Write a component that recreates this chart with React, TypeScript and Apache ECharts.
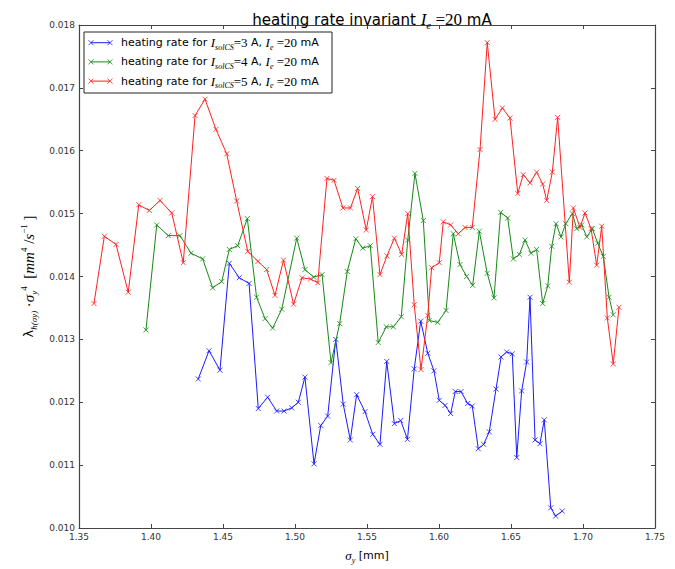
import React, { useEffect, useRef } from "react";
import * as echarts from "echarts";

const xTicks = [1.35, 1.4, 1.45, 1.5, 1.55, 1.6, 1.65, 1.7, 1.75];
const yTicks = [0.01, 0.011, 0.012, 0.013, 0.014, 0.015, 0.016, 0.017, 0.018];

const sigmaBlue = [1.4328,1.4403,1.4479,1.4544,1.4613,1.4681,1.4745,1.4810,1.4873,1.4924,1.4977,1.5023,1.5069,1.5132,1.5179,1.5227,1.5283,1.5335,1.5384,1.5428,1.5486,1.5540,1.5590,1.5637,1.5690,1.5734,1.5781,1.5828,1.5873,1.5922,1.5965,1.6002,1.6042,1.6081,1.6113,1.6153,1.6199,1.6231,1.6273,1.6310,1.6349,1.6396,1.6431,1.6470,1.6509,1.6540,1.6574,1.6609,1.6632,1.6667,1.6701,1.6731,1.6776,1.6810,1.6856];
const rateBlue = [0.01237,0.01282,0.01251,0.01421,0.01398,0.01389,0.01190,0.01208,0.01186,0.01186,0.01191,0.01200,0.01240,0.01102,0.01163,0.01178,0.01300,0.01197,0.01140,0.01212,0.01185,0.01149,0.01133,0.01265,0.01166,0.01171,0.01141,0.01253,0.01329,0.01278,0.01250,0.01203,0.01195,0.01182,0.01217,0.01217,0.01198,0.01194,0.01126,0.01133,0.01153,0.01221,0.01272,0.01280,0.01277,0.01112,0.01218,0.01264,0.01367,0.01140,0.01134,0.01172,0.01032,0.01019,0.01027];

const sigmaGreen = [1.3965,1.4040,1.4120,1.4201,1.4278,1.4359,1.4428,1.4491,1.4544,1.4602,1.4669,1.4733,1.4792,1.4845,1.4908,1.5012,1.5069,1.5130,1.5188,1.5250,1.5310,1.5363,1.5422,1.5471,1.5523,1.5578,1.5634,1.5683,1.5738,1.5783,1.5833,1.5891,1.5933,1.5991,1.6049,1.6099,1.6146,1.6192,1.6234,1.6280,1.6335,1.6382,1.6428,1.6477,1.6516,1.6558,1.6597,1.6639,1.6678,1.6720,1.6755,1.6783,1.6813,1.6847,1.6880,1.6926,1.6956,1.6991,1.7026,1.7065,1.7102,1.7141,1.7181,1.7210];
const rateGreen = [0.01315,0.01482,0.01465,0.01465,0.01437,0.01428,0.01382,0.01392,0.01443,0.01449,0.01492,0.01367,0.01333,0.01318,0.01348,0.01461,0.01411,0.01399,0.01403,0.01263,0.01325,0.01408,0.01460,0.01445,0.01449,0.01295,0.01320,0.01320,0.01336,0.01458,0.01564,0.01489,0.01330,0.01327,0.01346,0.01468,0.01419,0.01400,0.01386,0.01472,0.01405,0.01366,0.01502,0.01493,0.01428,0.01435,0.01458,0.01437,0.01443,0.01357,0.01385,0.01448,0.01484,0.01463,0.01484,0.01500,0.01476,0.01482,0.01463,0.01476,0.01453,0.01432,0.01367,0.01339];

const sigmaRed = [1.3604,1.3676,1.3757,1.3842,1.3915,1.3988,1.4063,1.4144,1.4224,1.4306,1.4375,1.4451,1.4526,1.4595,1.4672,1.4743,1.4803,1.4861,1.4920,1.4990,1.5049,1.5108,1.5158,1.5222,1.5271,1.5333,1.5385,1.5435,1.5495,1.5538,1.5590,1.5639,1.5690,1.5741,1.5783,1.5828,1.5875,1.5922,1.5949,1.6002,1.6030,1.6081,1.6134,1.6181,1.6231,1.6285,1.6335,1.6389,1.6440,1.6493,1.6547,1.6585,1.6632,1.6678,1.6720,1.6748,1.6787,1.6824,1.6905,1.6933,1.6979,1.7014,1.7056,1.7095,1.7130,1.7169,1.7210,1.7250];
const rateRed = [0.01357,0.01464,0.01451,0.01375,0.01514,0.01505,0.01521,0.01501,0.01422,0.01656,0.01682,0.01634,0.01595,0.01520,0.01440,0.01424,0.01411,0.01370,0.01426,0.01356,0.01398,0.01396,0.01390,0.01556,0.01553,0.01509,0.01509,0.01540,0.01474,0.01527,0.01403,0.01433,0.01461,0.01435,0.01500,0.01355,0.01252,0.01338,0.01414,0.01422,0.01487,0.01482,0.01468,0.01478,0.01478,0.01602,0.01772,0.01650,0.01668,0.01652,0.01532,0.01562,0.01549,0.01566,0.01547,0.01521,0.01566,0.01653,0.01391,0.01509,0.01478,0.01501,0.01476,0.01418,0.01480,0.01334,0.01261,0.01351];

const solCurrents = ["3", "4", "5"];
const seriesColors = ["#1a1aff", "#158a15", "#ff2020"];

const SANS = "DejaVu Sans";
const SERIF = "Liberation Serif";

const mathRich = (base: number) => {
  const small = Math.round(base * 0.72);
  return {
    t: { fontFamily: SANS, fontWeight: "normal", fontSize: base, color: "#000", lineHeight: base + 6 },
    m: { fontFamily: SERIF, fontWeight: "normal", fontStyle: "italic", fontSize: base + 2, color: "#000", lineHeight: base + 6 },
    n: { fontFamily: SERIF, fontWeight: "normal", fontSize: base + 2, color: "#000", lineHeight: base + 6 },
    s: { fontFamily: SERIF, fontWeight: "normal", fontStyle: "italic", fontSize: small, color: "#000", verticalAlign: "bottom", lineHeight: small + 1 },
    p: { fontFamily: SERIF, fontWeight: "normal", fontSize: small, color: "#000", verticalAlign: "top", lineHeight: small + 1 },
  };
};

const X_MARK = "path://M0 0L10 10M10 0L0 10";

export default function App() {
  const ref = useRef<HTMLDivElement>(null);
  useEffect(() => {
    if (!ref.current) return;
    const chart = echarts.init(ref.current, null, { renderer: "svg" });

    const sets = [
      [sigmaBlue, rateBlue],
      [sigmaGreen, rateGreen],
      [sigmaRed, rateRed],
    ];
    const series = sets.map(([xs, ys], i) => ({
      type: "line",
      name: `I_solCS=${solCurrents[i]} A`,
      data: xs.map((x, k) => [x, ys[k]]),
      xAxisIndex: 0,
      yAxisIndex: 0,
      symbol: X_MARK,
      symbolSize: 5,
      showSymbol: true,
      showAllSymbol: true,
      lineStyle: { color: seriesColors[i], width: 1 },
      itemStyle: { color: seriesColors[i], borderColor: seriesColors[i], borderWidth: 0.8 },
      emphasis: { disabled: true },
      z: 2 + i,
    }));

    const legendEls: any[] = [
      {
        type: "rect",
        shape: { x: 84, y: 32, width: 248, height: 61 },
        style: { fill: "#fff", stroke: "#222", lineWidth: 1 },
        z: 100,
      },
    ];
    solCurrents.forEach((c, i) => {
      const y = 42.7 + i * 19.2;
      const col = seriesColors[i];
      legendEls.push({
        type: "line",
        shape: { x1: 91, y1: y, x2: 110, y2: y },
        style: { stroke: col, lineWidth: 1 },
        z: 101,
      });
      [91, 110].forEach((cx) => {
        legendEls.push({
          type: "line",
          shape: { x1: cx - 2.5, y1: y - 2.5, x2: cx + 2.5, y2: y + 2.5 },
          style: { stroke: col, lineWidth: 0.8 },
          z: 101,
        });
        legendEls.push({
          type: "line",
          shape: { x1: cx - 2.5, y1: y + 2.5, x2: cx + 2.5, y2: y - 2.5 },
          style: { stroke: col, lineWidth: 0.8 },
          z: 101,
        });
      });
      legendEls.push({
        type: "text",
        x: 121,
        y: y,
        style: {
          text: `{t|heating rate for }{m|I}{s|solCS}{n|=${c}}{t| A, }{m|I}{s|e}{n| =20}{t| mA}`,
          rich: mathRich(11),
          verticalAlign: "middle",
          align: "left",
        },
        z: 101,
      });
    });

    const axisLineStyle = { color: "#444", width: 1.2 };
    const tickStyle = { show: true, inside: true, length: 4, lineStyle: { color: "#444", width: 1 } };

    chart.setOption({
      animation: false,
      backgroundColor: "#fff",
      title: {
        text: `{t|heating rate invariant }{m|I}{s|e}{n| =20}{t| mA}`,
        left: 367,
        top: 4,
        textAlign: "center",
        textStyle: { fontWeight: "normal", rich: mathRich(15) },
      },
      grid: { left: 79, right: 20, top: 25, bottom: 33, containLabel: false },
      xAxis: [
        {
          type: "value",
          position: "bottom",
          min: xTicks[0],
          max: xTicks[xTicks.length - 1],
          interval: 0.05,
          axisLine: { show: true, lineStyle: axisLineStyle },
          axisTick: tickStyle,
          splitLine: { show: false },
          axisLabel: {
            fontFamily: SANS,
            fontSize: 9,
            color: "#333",
            margin: 4,
            formatter: (v: number) => v.toFixed(2),
          },
          name: `{m|σ}{s|y}{t| [mm]}`,
          nameLocation: "middle",
          nameGap: 19,
          nameTextStyle: { rich: mathRich(11) },
        },
        {
          type: "value",
          position: "top",
          min: xTicks[0],
          max: xTicks[xTicks.length - 1],
          interval: 0.05,
          axisLine: { show: true, lineStyle: axisLineStyle },
          axisTick: tickStyle,
          splitLine: { show: false },
          axisLabel: { show: false },
        },
      ],
      yAxis: [
        {
          type: "value",
          position: "left",
          min: yTicks[0],
          max: yTicks[yTicks.length - 1],
          interval: 0.001,
          axisLine: { show: true, lineStyle: axisLineStyle },
          axisTick: tickStyle,
          splitLine: { show: false },
          axisLabel: {
            fontFamily: SANS,
            fontSize: 9,
            color: "#333",
            margin: 4,
            formatter: (v: number) => v.toFixed(3),
          },
          name: `{t|λ}{s|h(σ}{s|y}{s|)}{n| ·}{m|σ}{s|y}{p|4}{n|  [}{m|mm}{p|4}{n| /}{m|s}{p|−1}{n| ]}`,
          nameLocation: "middle",
          nameRotate: 90,
          nameGap: 40,
          nameTextStyle: { rich: mathRich(13) },
        },
        {
          type: "value",
          position: "right",
          min: yTicks[0],
          max: yTicks[yTicks.length - 1],
          interval: 0.001,
          axisLine: { show: true, lineStyle: axisLineStyle },
          axisTick: tickStyle,
          splitLine: { show: false },
          axisLabel: { show: false },
        },
      ],
      series,
      graphic: legendEls,
    });

    return () => chart.dispose();
  }, []);

  return (
    <div
      ref={ref}
      style={{ position: "absolute", left: 0, top: 0, width: 675, height: 569, background: "#fff" }}
    />
  );
}
